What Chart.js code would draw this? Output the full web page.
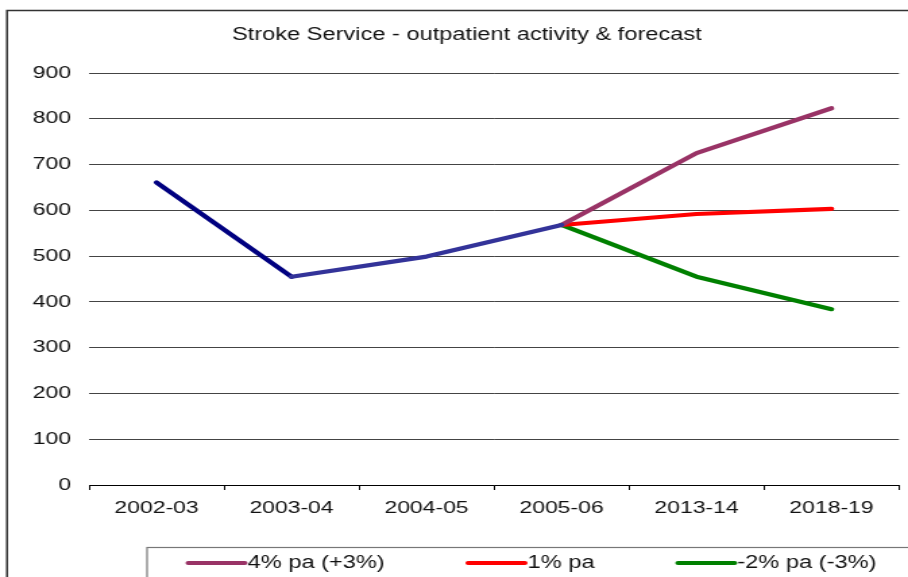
<!DOCTYPE html>
<html>
<head>
<meta charset="utf-8">
<script src="https://cdn.jsdelivr.net/npm/chart.js@4/dist/chart.umd.min.js"></script>
<style>
  html, body { margin: 0; padding: 0; background: #fff; overflow: hidden; }
  #wrap { width: 908px; height: 577px; overflow: hidden; }
  #inner { transform: scaleX(1.3492); transform-origin: 0 0; width: 673px; height: 577px; }
</style>
</head>
<body>
<div id="wrap"><div id="inner"><canvas id="chart" width="673" height="577"></canvas></div></div>
<script>
// valores
const categorias = ['2002-03', '2003-04', '2004-05', '2005-06', '2013-14', '2018-19'];
const actividad = [661, 455, 499, 568, null, null];
const alta = [null, null, null, 568, 725, 823];
const media = [null, null, null, 568, 592, 603];
const baja = [null, null, null, 568, 455, 384];
const ticksY = [0, 100, 200, 300, 400, 500, 600, 700, 800, 900];

const titulo = 'Stroke Service - outpatient activity & forecast';
const fuente = "'Liberation Sans', Arial, sans-serif";

// marco, titulo y leyenda dibujados a mano
const marco = {
  id: 'marco',
  beforeDraw(chart) {
    const ctx = chart.ctx;
    ctx.save();
    ctx.strokeStyle = '#333';
    ctx.lineWidth = 1.5;
    ctx.strokeRect(5.2, 10.5, 800, 700);
    ctx.fillStyle = '#111';
    ctx.font = '17.5px ' + fuente;
    ctx.textAlign = 'center';
    ctx.textBaseline = 'middle';
    ctx.fillText(titulo, 346, 35);
    ctx.restore();
  },
  afterDraw(chart) {
    const ctx = chart.ctx;
    ctx.save();
    ctx.strokeStyle = '#777';
    ctx.lineWidth = 1.2;
    ctx.strokeRect(109, 547.5, 800, 100);
    const posiciones = [139.5, 347, 502.5];
    const series = chart.data.datasets.slice(1);
    ctx.font = '17.5px ' + fuente;
    ctx.textBaseline = 'middle';
    ctx.lineCap = 'round';
    series.forEach((ds, i) => {
      const x = posiciones[i];
      ctx.strokeStyle = ds.borderColor;
      ctx.lineWidth = 4;
      ctx.beginPath();
      ctx.moveTo(x, 563);
      ctx.lineTo(x + 42, 563);
      ctx.stroke();
      ctx.fillStyle = '#111';
      ctx.fillText(ds.label, x + 44, 563);
    });
    ctx.restore();
  }
};

const ctx = document.getElementById('chart').getContext('2d');
const chart = new Chart(ctx, {
  type: 'line',
  data: {
    labels: categorias,
    datasets: [
      {
        label: 'Actual',
        data: actividad,
        borderColor: '#000080',
        segment: {
          borderColor: (c) => (c.p0DataIndex === 0 ? '#000080' : '#333399')
        },
        order: 0
      },
      { label: '4% pa (+3%)', data: alta, borderColor: '#993366', order: 1 },
      { label: '1% pa', data: media, borderColor: '#FF0000', order: 2 },
      { label: '-2% pa (-3%)', data: baja, borderColor: '#008000', order: 3 }
    ]
  },
  options: {
    responsive: false,
    animation: false,
    devicePixelRatio: 1,
    layout: { padding: { top: 73, right: 6.7, left: 0, bottom: 0 } },
    elements: {
      line: { borderWidth: 4.2, tension: 0, borderCapStyle: 'round', borderJoinStyle: 'round', fill: false },
      point: { radius: 0, hoverRadius: 0 }
    },
    plugins: {
      legend: { display: false },
      title: { display: false },
      tooltip: { enabled: false }
    },
    scales: {
      x: {
        offset: true,
        afterFit: (s) => { s.height = 92; },
        grid: { offset: true, drawOnChartArea: false, drawTicks: true, tickLength: 5, color: '#000' },
        border: { display: true, color: '#000', width: 1 },
        ticks: { color: '#111', padding: 8, font: { family: fuente, size: 17 }, maxRotation: 0 }
      },
      y: {
        min: 0,
        max: 900,
        afterFit: (s) => { s.width = 66; },
        afterBuildTicks: (s) => { s.ticks = ticksY.map((v) => ({ value: v })); },
        grid: { color: '#444', drawTicks: false },
        border: { display: false },
        ticks: { color: '#111', padding: 13.4, font: { family: fuente, size: 17 } }
      }
    }
  },
  plugins: [marco]
});
</script>
</body>
</html>
